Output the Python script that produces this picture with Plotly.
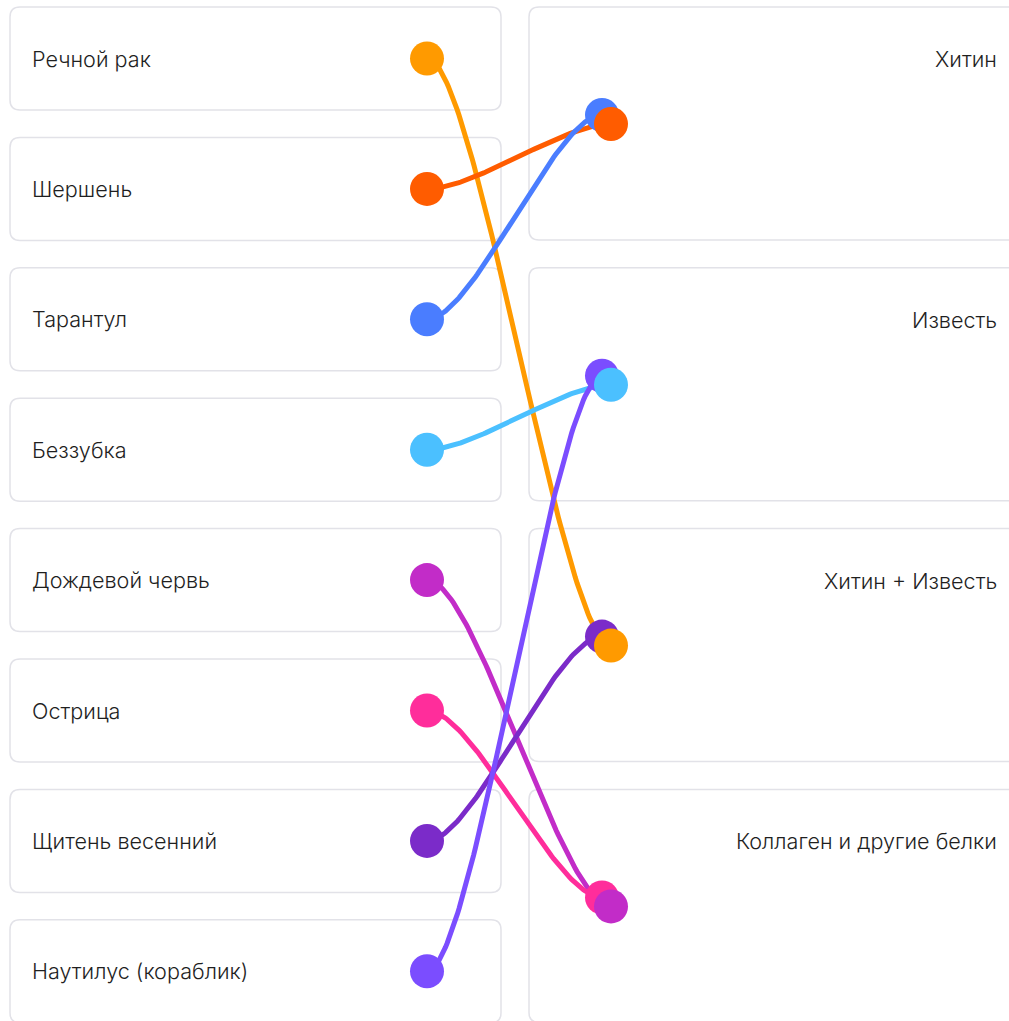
import numpy as np
import plotly.graph_objects as go

# Organisms (left column) and skeleton materials (right column)
organisms = [
    "Речной рак",
    "Шершень",
    "Тарантул",
    "Беззубка",
    "Дождевой червь",
    "Острица",
    "Щитень весенний",
    "Наутилус (кораблик)",
]
materials = ["Хитин", "Известь", "Хитин + Известь", "Коллаген и другие белки"]

# which organisms were dropped onto each material, in drop order
material_members = [[2, 1], [7, 3], [6, 0], [5, 4]]

colors = ["#FF9A00", "#FF5C00", "#4A7DFF", "#4BC0FF",
          "#C22CC8", "#FF2D9B", "#7B2BC9", "#7B4DFF"]

W, H = 1009, 1021
L_X0, L_X1, L_TOP, L_PITCH, L_H = 10, 501, 7, 130.4, 103
R_X0, R_X1, R_TOP, R_PITCH, R_H = 529, 1040, 7, 260.8, 233
DOT_X_LEFT = 427
BORDER = "#E2E2E8"
TEXT = "#1F1F1F"
FONT = "Inter"
FSIZE = 21.6
K = 0.27  # bezier control offset as a share of the horizontal span


def rounded_rect(x0, y0, x1, y1, r=10):
    return (f"M {x0+r},{y0} L {x1-r},{y0} Q {x1},{y0} {x1},{y0+r} "
            f"L {x1},{y1-r} Q {x1},{y1} {x1-r},{y1} L {x0+r},{y1} "
            f"Q {x0},{y1} {x0},{y1-r} L {x0},{y0+r} Q {x0},{y0} {x0+r},{y0} Z")


fig = go.Figure()
shapes, annotations = [], []

left_pts = []
for i, name in enumerate(organisms):
    top = L_TOP + L_PITCH * i
    shapes.append(dict(type="path", path=rounded_rect(L_X0, top, L_X1, top + L_H),
                       line=dict(color=BORDER, width=1.5), fillcolor="white", layer="below"))
    cy = top + L_H / 2
    annotations.append(dict(x=33, y=cy, xshift=-3, text=name, showarrow=False,
                            xanchor="left", yanchor="middle",
                            font=dict(family=FONT, size=FSIZE, color=TEXT, weight=300)))
    left_pts.append((DOT_X_LEFT, cy))

right_pts = {}
for j, name in enumerate(materials):
    top = R_TOP + R_PITCH * j
    shapes.append(dict(type="path", path=rounded_rect(R_X0, top, R_X1, top + R_H),
                       line=dict(color=BORDER, width=1.5), fillcolor="white", layer="below"))
    annotations.append(dict(x=996, y=top + 52, xshift=3, text=name, showarrow=False,
                            xanchor="right", yanchor="middle",
                            font=dict(family=FONT, size=FSIZE, color=TEXT, weight=300)))
    for s, idx in enumerate(material_members[j]):
        right_pts[idx] = (602 + 9 * s, top + 108 + 9 * s, s)

# connecting curves
t = np.linspace(0, 1, 100)
for i in range(len(organisms)):
    x0, y0 = left_pts[i]
    x3, y3, _ = right_pts[i]
    x1 = x0 + K * (x3 - x0)
    x2 = x3 - K * (x3 - x0)
    bx = (1 - t) ** 3 * x0 + 3 * (1 - t) ** 2 * t * x1 + 3 * (1 - t) * t ** 2 * x2 + t ** 3 * x3
    by = (1 - t) ** 3 * y0 + 3 * (1 - t) ** 2 * t * y0 + 3 * (1 - t) * t ** 2 * y3 + t ** 3 * y3
    fig.add_trace(go.Scatter(x=bx, y=by, mode="lines", line=dict(color=colors[i], width=5),
                             hoverinfo="skip", showlegend=False))

# left dots
fig.add_trace(go.Scatter(
    x=[p[0] for p in left_pts], y=[p[1] for p in left_pts], mode="markers",
    marker=dict(size=34, color=colors, line=dict(width=0)),
    text=organisms, hoverinfo="text", showlegend=False))

# right dots, first drop slot then second on top
for slot in (0, 1):
    idx = [i for i in range(len(organisms)) if right_pts[i][2] == slot]
    fig.add_trace(go.Scatter(
        x=[right_pts[i][0] for i in idx], y=[right_pts[i][1] for i in idx], mode="markers",
        marker=dict(size=34, color=[colors[i] for i in idx], line=dict(width=0)),
        text=[organisms[i] for i in idx], hoverinfo="text", showlegend=False))

fig.update_layout(
    width=W, height=H,
    margin=dict(l=0, r=0, t=0, b=0),
    paper_bgcolor="white", plot_bgcolor="white",
    xaxis=dict(range=[0, W], visible=False, fixedrange=True),
    yaxis=dict(range=[H, 0], visible=False, fixedrange=True),
    shapes=shapes, annotations=annotations,
)

fig.write_html("out.html", config={"displayModeBar": False},
               post_script="document.body.style.margin='0';")
